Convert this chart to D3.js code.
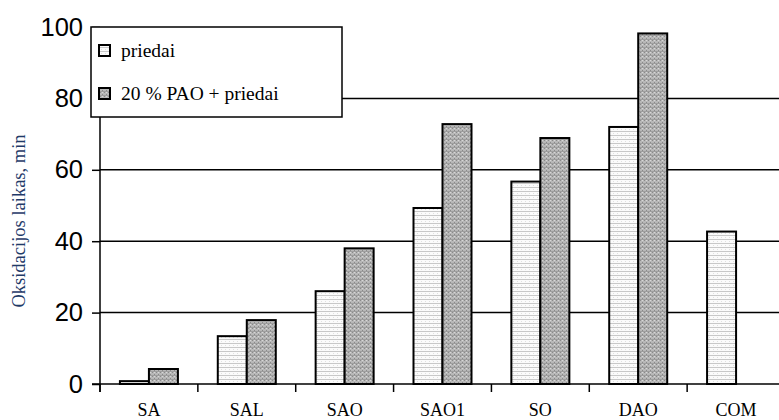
<!DOCTYPE html>
<html><head><meta charset="utf-8">
<script src="https://cdn.jsdelivr.net/npm/d3@7"></script>
<style>body{margin:0;background:#fff}svg{display:block}</style>
</head><body>
<svg id="c" width="779" height="420"></svg>
<script>
const categories = ["SA","SAL","SAO","SAO1","SO","DAO","COM"];
const priedai = [0.8, 13.4, 26, 49.3, 56.7, 72, 42.7];
const pao = [4.2, 17.9, 38, 72.8, 68.9, 98.2, null];
const yTicks = [0,20,40,60,80,100];
const seriesNames = ["priedai","20 % PAO + priedai"];

const SERIF = "'Liberation Serif', 'DejaVu Serif', serif";
const SANS = "'Liberation Sans', Arial, sans-serif";

const svg = d3.select("#c");
const defs = svg.append("defs");
const pA = defs.append("pattern").attr("id","pA").attr("patternUnits","userSpaceOnUse").attr("width",4).attr("height",4);
pA.append("rect").attr("width",4).attr("height",4).attr("fill","#fbfbfb");
pA.append("rect").attr("y",3).attr("width",4).attr("height",1).attr("fill","#c8c8c8");
pA.append("rect").attr("x",1).attr("y",1).attr("width",1).attr("height",1).attr("fill","#e0e0e0");
const pB = defs.append("pattern").attr("id","pB").attr("patternUnits","userSpaceOnUse").attr("width",4).attr("height",4);
pB.append("rect").attr("width",4).attr("height",4).attr("fill","#b8b8b8");
pB.append("rect").attr("x",0).attr("y",0).attr("width",1).attr("height",1).attr("fill","#8a8a8a");
pB.append("rect").attr("x",2).attr("y",2).attr("width",1).attr("height",1).attr("fill","#8a8a8a");
pB.append("rect").attr("x",2).attr("y",0).attr("width",1).attr("height",1).attr("fill","#d8d8d8");
pB.append("rect").attr("y",3).attr("width",4).attr("height",1).attr("fill","#9e9e9e");

const x0 = 100, x1 = 785;
const y = d3.scaleLinear().domain([0,100]).range([384,27]);
const x = d3.scaleBand().domain(categories).range([x0,x1]).paddingInner(0).paddingOuter(0);
const bw = 29;

svg.append("g").selectAll("line").data(yTicks.filter(t=>t>0&&t<100)).join("line")
  .attr("x1",x0).attr("x2",779).attr("y1",d=>y(d)).attr("y2",d=>y(d))
  .attr("stroke","#000").attr("stroke-width",1.5);

const g = svg.append("g");
categories.forEach((c,i)=>{
  const cx = x(c) + x.bandwidth()/2;
  g.append("rect").attr("x",cx-bw).attr("y",y(priedai[i])).attr("width",bw).attr("height",y(0)-y(priedai[i]))
    .attr("fill","url(#pA)").attr("stroke","#000").attr("stroke-width",2);
  if (pao[i]!=null) {
    g.append("rect").attr("x",cx).attr("y",y(pao[i])).attr("width",bw).attr("height",y(0)-y(pao[i]))
      .attr("fill","url(#pB)").attr("stroke","#000").attr("stroke-width",2);
  }
});

const ya = svg.append("g").attr("transform",`translate(${x0},0)`)
  .call(d3.axisLeft(y).tickValues(yTicks).tickSize(8).tickPadding(9));
ya.select(".domain").remove();
ya.selectAll("line").attr("stroke","#000").attr("stroke-width",1.5);
ya.selectAll("text").style("font-family",SANS).style("font-size","25.5px").attr("fill","#000");
svg.append("line").attr("x1",x0).attr("x2",x0).attr("y1",27).attr("y2",392).attr("stroke","#000").attr("stroke-width",1.5);

svg.append("line").attr("x1",92).attr("x2",779).attr("y1",y(0)).attr("y2",y(0)).attr("stroke","#000").attr("stroke-width",1.5);
const xa = svg.append("g").attr("transform",`translate(0,${y(0)})`)
  .call(d3.axisBottom(x).tickSize(0).tickPadding(19));
xa.select(".domain").remove();
xa.selectAll("text").style("font-family",SERIF).style("font-size","18px").attr("fill","#000");
svg.append("g").selectAll("line").data(categories).join("line")
  .attr("x1",d=>x(d)).attr("x2",d=>x(d)).attr("y1",y(0)).attr("y2",y(0)+8)
  .attr("stroke","#000").attr("stroke-width",1.5);

svg.append("text").attr("transform","translate(25,221) rotate(-90)").attr("text-anchor","middle")
  .style("font-family",SERIF).style("font-size","18.5px").attr("fill","#1f3a68")
  .text("Oksidacijos laikas, min");

const lg = svg.append("g");
lg.append("rect").attr("x",91).attr("y",27).attr("width",251).attr("height",90).attr("fill","#fff").attr("stroke","#000").attr("stroke-width",1.5);
const ly = [51, 94];
seriesNames.forEach((n,i)=>{
  lg.append("rect").attr("x",99).attr("y",ly[i]-6).attr("width",11).attr("height",11)
    .attr("fill",i===0?"url(#pA)":"url(#pB)").attr("stroke","#000").attr("stroke-width",2);
  lg.append("text").attr("x",121).attr("y",ly[i]+6).style("font-family",SERIF)
    .style("font-size","19.5px").attr("fill","#000").text(n);
});
</script>
</body></html>
